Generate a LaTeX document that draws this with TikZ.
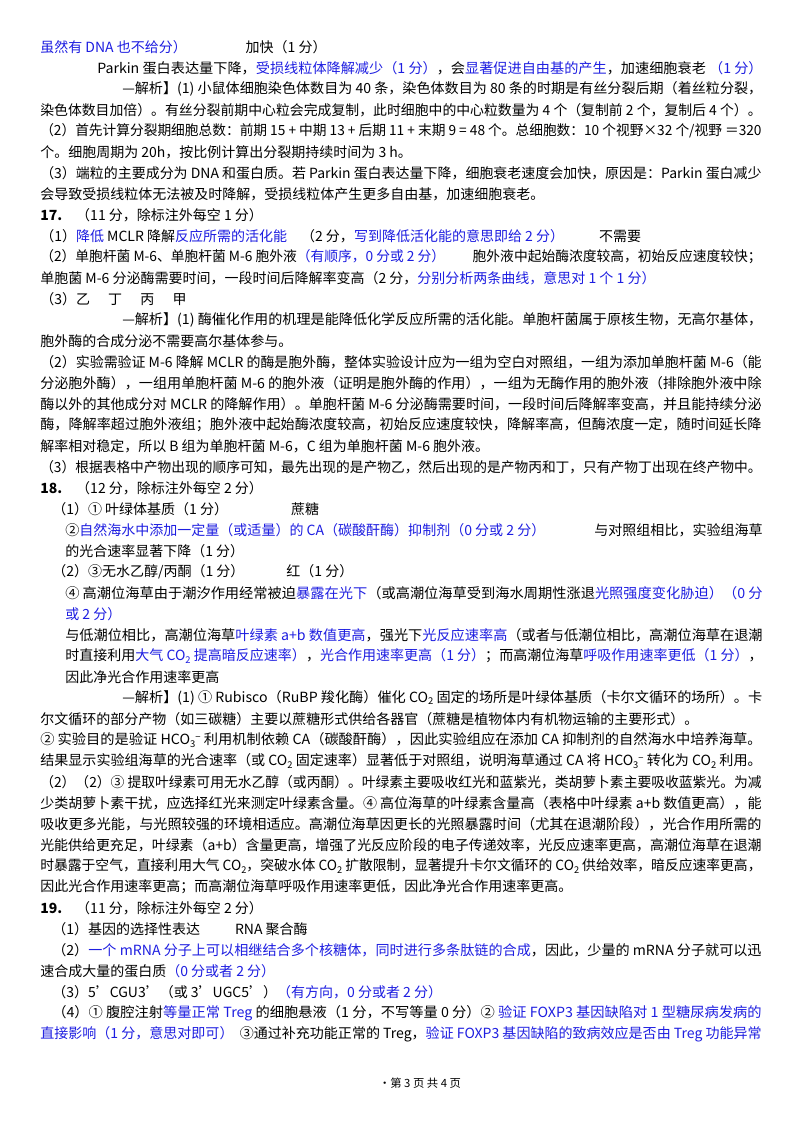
\documentclass[tikz,border=0pt]{standalone}
\usepackage{fontspec}
\usepackage{graphicx}
\setmainfont{Noto Sans CJK SC}
\definecolor{bl}{RGB}{30,30,225}
\newcommand{\B}[1]{\textcolor{bl}{#1}}
\newcommand{\F}[2]{\resizebox{#1pt}{\height}{#2}}
\newcommand{\sub}[1]{\raisebox{-0.3ex}{\scriptsize #1}}
\newcommand{\hco}{HCO\sub{3}\raisebox{0.6ex}{\scriptsize −}}
\tikzset{ln/.style={anchor=west,inner sep=0pt,font=\fontsize{10.5}{12}\selectfont}}
\begin{document}
\begin{tikzpicture}[x=0.75pt,y=-0.75pt]
\useasboundingbox (0,0) rectangle (800,1132);
\fill[white] (0,0) rectangle (800,1132);
\node[ln] (l1) at (40,47) {\B{虽然有 DNA 也不给分）}\hspace{4.2em}加快（1 分）};
\node[ln] (l2) at (97,68) {\F{499}{Parkin 蛋白表达量下降，\B{受损线粒体降解减少（1 分）}，会\B{显著促进自由基的产生}，加速细胞衰老 \B{（1 分）}}};
\node[ln] (l3) at (122,89) {\F{480}{—解析】(1) 小鼠体细胞染色体数目为 40 条，染色体数目为 80 条的时期是有丝分裂后期（着丝粒分裂，}};
\node[ln] (l4) at (40,110) {\F{541}{染色体数目加倍）。有丝分裂前期中心粒会完成复制，此时细胞中的中心粒数量为 4 个（复制前 2 个，复制后 4 个）。}};
\node[ln] (l5) at (40,131) {\F{541}{（2）首先计算分裂期细胞总数：前期 15 + 中期 13 + 后期 11 + 末期 9 = 48 个。总细胞数：10 个视野×32 个/视野 ＝320}};
\node[ln] (l6) at (40,152) {个。细胞周期为 20h，按比例计算出分裂期持续时间为 3 h。};
\node[ln] (l7) at (40,173) {\F{541}{（3）端粒的主要成分为 DNA 和蛋白质。若 Parkin 蛋白表达量下降，细胞衰老速度会加快，原因是：Parkin 蛋白减少}};
\node[ln] (l8) at (40,194) {会导致受损线粒体无法被及时降解，受损线粒体产生更多自由基，加速细胞衰老。};
\node[ln] (l9) at (40,215) {\textbf{17.}\quad （11 分，除标注外每空 1 分）};
\node[ln] (l10) at (40,236) {（1）\B{降低} MCLR 降解\B{反应所需的活化能}\quad（2 分，\B{写到降低活化能的意思即给 2 分）}\hspace{2.5em}不需要};
\node[ln] (l11) at (40,257) {\F{541}{（2）单胞杆菌 M-6、单胞杆菌 M-6 胞外液\B{（有顺序，0 分或 2 分）}\hspace{2em}胞外液中起始酶浓度较高，初始反应速度较快；}};
\node[ln] (l12) at (40,278) {单胞菌 M-6 分泌酶需要时间，一段时间后降解率变高（2 分，\B{分别分析两条曲线，意思对 1 个 1 分）}};
\node[ln] (l13) at (40,299) {（3）乙\hspace{1.3em}丁\hspace{1.3em}丙\hspace{1.3em}甲};
\node[ln] (l14) at (122,320) {\F{480}{—解析】(1) 酶催化作用的机理是能降低化学反应所需的活化能。单胞杆菌属于原核生物，无高尔基体，}};
\node[ln] (l15) at (40,341) {胞外酶的合成分泌不需要高尔基体参与。};
\node[ln] (l16) at (40,362) {\F{541}{（2）实验需验证 M-6 降解 MCLR 的酶是胞外酶，整体实验设计应为一组为空白对照组，一组为添加单胞杆菌 M-6（能}};
\node[ln] (l17) at (40,383) {\F{541}{分泌胞外酶），一组用单胞杆菌 M-6 的胞外液（证明是胞外酶的作用），一组为无酶作用的胞外液（排除胞外液中除}};
\node[ln] (l18) at (40,404) {\F{541}{酶以外的其他成分对 MCLR 的降解作用）。单胞杆菌 M-6 分泌酶需要时间，一段时间后降解率变高，并且能持续分泌}};
\node[ln] (l19) at (40,425) {\F{541}{酶，降解率超过胞外液组；胞外液中起始酶浓度较高，初始反应速度较快，降解率高，但酶浓度一定，随时间延长降}};
\node[ln] (l20) at (40,446) {解率相对稳定，所以 B 组为单胞杆菌 M-6，C 组为单胞杆菌 M-6 胞外液。};
\node[ln] (l21) at (40,467) {\F{541}{（3）根据表格中产物出现的顺序可知，最先出现的是产物乙，然后出现的是产物丙和丁，只有产物丁出现在终产物中。}};
\node[ln] (l22) at (40,488) {\textbf{18.}\quad （12 分，除标注外每空 2 分）};
\node[ln] (l23) at (52,509) {（1）①\ 叶绿体基质（1 分）\hspace{4.5em}蔗糖};
\node[ln] (l24) at (65,530) {\F{523}{②\B{自然海水中添加一定量（或适量）的 CA（碳酸酐酶）抑制剂（0 分或 2 分）}\hspace{3.5em}与对照组相比，实验组海草}};
\node[ln] (l25) at (65,551) {的光合速率显著下降（1 分）};
\node[ln] (l26) at (52,572) {（2）③无水乙醇/丙酮（1 分）\hspace{3em}红（1 分）};
\node[ln] (l27) at (65,593) {\F{523}{④ 高潮位海草由于潮汐作用经常被迫\B{暴露在光下}（或高潮位海草受到海水周期性涨退\B{光照强度变化胁迫）（0 分}}};
\node[ln] (l28) at (65,614) {\B{或 2 分）}};
\node[ln] (l29) at (65,635) {\F{523}{与低潮位相比，高潮位海草\B{叶绿素 a+b 数值更高}，强光下\B{光反应速率高}（或者与低潮位相比，高潮位海草在退潮}};
\node[ln] (l30) at (65,656) {\F{523}{时直接利用\B{大气 CO\sub{2} 提高暗反应速率）}，\B{光合作用速率更高（1 分）}；而高潮位海草\B{呼吸作用速率更低（1 分）}，}};
\node[ln] (l31) at (65,677) {因此净光合作用速率更高};
\node[ln] (l32) at (122,698) {\F{480}{—解析】(1) ① Rubisco（RuBP 羧化酶）催化 CO\sub{2} 固定的场所是叶绿体基质（卡尔文循环的场所）。卡}};
\node[ln] (l33) at (40,719) {尔文循环的部分产物（如三碳糖）主要以蔗糖形式供给各器官（蔗糖是植物体内有机物运输的主要形式）。};
\node[ln] (l34) at (40,740) {\F{541}{② 实验目的是验证 \hco{} 利用机制依赖 CA（碳酸酐酶），因此实验组应在添加 CA 抑制剂的自然海水中培养海草。}};
\node[ln] (l35) at (40,761) {\F{541}{结果显示实验组海草的光合速率（或 CO\sub{2} 固定速率）显著低于对照组，说明海草通过 CA 将 \hco{} 转化为 CO\sub{2} 利用。}};
\node[ln] (l36) at (40,782) {\F{541}{（2）（2）③ 提取叶绿素可用无水乙醇（或丙酮）。叶绿素主要吸收红光和蓝紫光，类胡萝卜素主要吸收蓝紫光。为减}};
\node[ln] (l37) at (40,803) {\F{541}{少类胡萝卜素干扰，应选择红光来测定叶绿素含量。④ 高位海草的叶绿素含量高（表格中叶绿素 a+b 数值更高），能}};
\node[ln] (l38) at (40,824) {\F{541}{吸收更多光能，与光照较强的环境相适应。高潮位海草因更长的光照暴露时间（尤其在退潮阶段），光合作用所需的}};
\node[ln] (l39) at (40,845) {\F{541}{光能供给更充足，叶绿素（a+b）含量更高，增强了光反应阶段的电子传递效率，光反应速率更高，高潮位海草在退潮}};
\node[ln] (l40) at (40,866) {\F{541}{时暴露于空气，直接利用大气 CO\sub{2}，突破水体 CO\sub{2} 扩散限制，显著提升卡尔文循环的 CO\sub{2} 供给效率，暗反应速率更高，}};
\node[ln] (l41) at (40,887) {因此光合作用速率更高；而高潮位海草呼吸作用速率更低，因此净光合作用速率更高。};
\node[ln] (l42) at (40,908) {\textbf{19.}\quad （11 分，除标注外每空 2 分）};
\node[ln] (l43) at (52,929) {（1）基因的选择性表达\hspace{2.5em}RNA 聚合酶};
\node[ln] (l44) at (52,950) {\F{532}{（2）\B{一个 mRNA 分子上可以相继结合多个核糖体，同时进行多条肽链的合成}，因此，少量的 mRNA 分子就可以迅}};
\node[ln] (l45) at (40,971) {速合成大量的蛋白质\B{（0 分或者 2 分）}};
\node[ln] (l46) at (52,992) {（3）5'CGU3'（或 3'UGC5'）\B{（有方向，0 分或者 2 分）}};
\node[ln] (l47) at (52,1013) {\F{532}{（4）① 腹腔注射\B{等量正常 Treg} 的细胞悬液（1 分，不写等量 0 分）② \B{验证 FOXP3 基因缺陷对 1 型糖尿病发病的}}};
\node[ln] (l48) at (40,1034) {\F{541}{\B{直接影响（1 分，意思对即可）}\ \ ③通过补充功能正常的 Treg，\B{验证 FOXP3 基因缺陷的致病效应是否由 Treg 功能异常}}};
\node[anchor=center,inner sep=0pt,font=\fontsize{8.5}{10}\selectfont] (pg) at (420,1083) {·第 3 页 共 4 页};
\end{tikzpicture}
\end{document}
